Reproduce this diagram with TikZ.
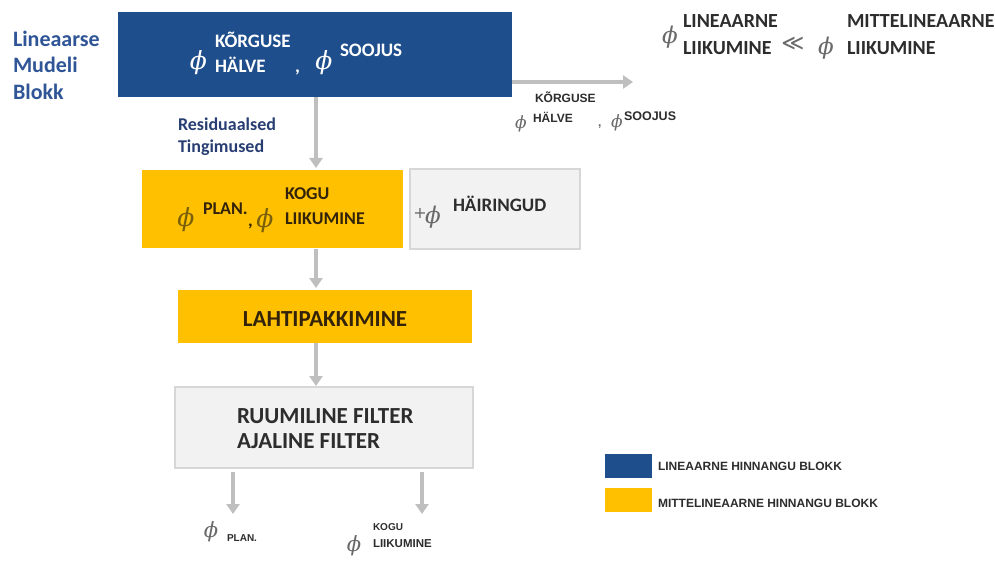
\documentclass[tikz,border=0pt]{standalone}
\usepackage{fontspec}
\setmainfont{Carlito}
\newfontfamily\arl{Liberation Sans}
\newfontfamily\phif{DejaVu Serif}
\newfontfamily\symf{DejaVu Sans}
\usetikzlibrary{arrows.meta}

\definecolor{linblue}{RGB}{31,78,140}
\definecolor{labblue}{RGB}{47,85,151}
\definecolor{resblue}{RGB}{40,62,115}
\definecolor{nlyellow}{RGB}{255,192,0}
\definecolor{boxgray}{RGB}{242,242,242}
\definecolor{boxline}{RGB}{215,215,215}
\definecolor{arrgray}{RGB}{191,191,191}
\definecolor{phigray}{RGB}{105,105,105}
\definecolor{phiolive}{RGB}{120,95,10}
\definecolor{darktxt}{RGB}{45,45,45}
\definecolor{yeltxt}{RGB}{50,35,10}

\newcommand{\fs}[1]{\fontsize{#1}{#1}\selectfont}
\newcommand{\ph}{{\phif\itshape ϕ}}

\begin{document}
\begin{tikzpicture}[x=1pt,y=-1pt,
  every node/.style={inner sep=0pt,outer sep=0pt},
  arr/.style={draw=arrgray,line width=4pt,-{Triangle[width=13pt,length=10pt]}},
  phi/.style={font=\fs{#1}},
  lbl/.style={anchor=base west,font=\fs{#1}\bfseries},
  sml/.style={anchor=base west,font=\fs{#1}\arl\bfseries,text=darktxt},
]
\useasboundingbox (0,0) rectangle (995,561);
\fill[white] (0,0) rectangle (995,561);

% ---------- linear model block ----------
\node[fill=linblue,minimum width=394pt,minimum height=85pt] (lin) at (315,54.5) {};
\node[lbl=22,text=labblue] (l1) at (13,47) {Lineaarse};
\node[lbl=22,text=labblue] (l2) at (13,73) {Mudeli};
\node[lbl=22,text=labblue] (l3) at (13,100) {Blokk};

\node[phi=25,text=white] (bphi1) at (198.5,62.5) {\ph};
\node[lbl=19,text=white] (bk) at (215,48) {KÕRGUSE};
\node[lbl=19,text=white] (bh) at (215,73) {HÄLVE};
\node[lbl=19,text=white] (bc) at (295,73) {,};
\node[phi=25,text=white] (bphi2) at (324,62.5) {\ph};
\node[lbl=19,text=white] (bs) at (340,57) {SOOJUS};

% residual conditions label
\node[lbl=18,text=resblue] (r1) at (178,131) {Residuaalsed};
\node[lbl=18,text=resblue] (r2) at (178,153) {Tingimused};

% ---------- output to the right ----------
\coordinate (hend) at (633,82);
\draw[arr] (lin.east |- hend) -- (hend);
\node[sml=12] (ok) at (535,103) {KÕRGUSE};
\node[phi=17,text=phigray] (ophi1) at (521,124) {\ph};
\node[sml=12] (oh) at (533,123) {HÄLVE};
\node[sml=12,text=phigray] (oc) at (598,127) {,};
\node[phi=17,text=phigray] (ophi2) at (617,123) {\ph};
\node[sml=12.5] (os) at (624,121) {SOOJUS};

% ---------- relation top right ----------
\node[phi=23,text=phigray] (tphi1) at (670,37) {\ph};
\node[lbl=20,text=darktxt] (t1) at (683,28) {LINEAARNE};
\node[lbl=20,text=darktxt] (t2) at (683,55) {LIIKUMINE};
\node[phi=22,text=phigray] (tll) at (793,44) {\symf ≪};
\node[phi=23,text=phigray] (tphi2) at (826,48) {\ph};
\node[lbl=20,text=darktxt] (t3) at (847,28) {MITTELINEAARNE};
\node[lbl=20,text=darktxt] (t4) at (847,55) {LIIKUMINE};

% ---------- nonlinear block ----------
\node[fill=nlyellow,minimum width=261pt,minimum height=78pt] (nl) at (272.5,209) {};
\node[fill=boxgray,draw=boxline,line width=1.2pt,minimum width=170pt,minimum height=80pt] (dist) at (495,209) {};

\node[phi=25,text=phiolive] (yphi1) at (186,220) {\ph};
\node[lbl=18,text=yeltxt] (yp) at (203,215) {PLAN.};
\node[lbl=18,text=yeltxt] (yc) at (248,227) {,};
\node[phi=25,text=phiolive] (yphi2) at (265,221) {\ph};
\node[lbl=18,text=yeltxt] (yk) at (285,200) {KOGU};
\node[lbl=18,text=yeltxt] (yl) at (285,225) {LIIKUMINE};

\node[phi=16,text=phigray] (gplus) at (420,213) {\symf +};
\node[phi=23,text=phigray] (gphi) at (433,217) {\ph};
\node[lbl=19,text=darktxt] (gh) at (453,212) {HÄIRINGUD};

% ---------- unwrapping ----------
\node[fill=nlyellow,minimum width=294pt,minimum height=53pt] (unw) at (325,316.5) {};
\node[font=\fs{23}\bfseries,text=yeltxt] (unwt) at (325,319) {LAHTIPAKKIMINE};

% ---------- filters ----------
\node[fill=boxgray,draw=boxline,line width=1.2pt,minimum width=298pt,minimum height=81pt] (flt) at (324,427.5) {};
\node[lbl=23,text=darktxt] (f1) at (237,423) {RUUMILINE FILTER};
\node[lbl=23,text=darktxt] (f2) at (237,448) {AJALINE FILTER};

% vertical flow arrows
\draw[arr] (lin.south -| 316,0) -- (316,168);
\draw[arr] (316,249) -- (316,288);
\draw[arr] (316,343) -- (316,386);
\coordinate (oa1) at (233,472);
\coordinate (ob1) at (233,514);
\coordinate (oa2) at (422,472);
\coordinate (ob2) at (422,514);
\draw[arr] (oa1) -- (ob1);
\draw[arr] (oa2) -- (ob2);

% ---------- outputs ----------
\node[phi=21,text=phigray] (pphi) at (211,532) {\ph};
\node[sml=10] (pp) at (227,541) {PLAN.};
\node[sml=10] (pk) at (373,530) {KOGU};
\node[phi=21,text=phigray] (kphi) at (354,546) {\ph};
\node[sml=11.5] (pl) at (373,547) {LIIKUMINE};

% ---------- legend ----------
\node[fill=linblue,minimum width=47pt,minimum height=24pt] (lgb) at (628.5,466) {};
\node[fill=nlyellow,minimum width=47pt,minimum height=24pt] (lgy) at (628.5,500) {};
\node[sml=12] (lgbt) at (658,470) {LINEAARNE HINNANGU BLOKK};
\node[sml=12] (lgyt) at (658,507) {MITTELINEAARNE HINNANGU BLOKK};
\end{tikzpicture}
\end{document}
